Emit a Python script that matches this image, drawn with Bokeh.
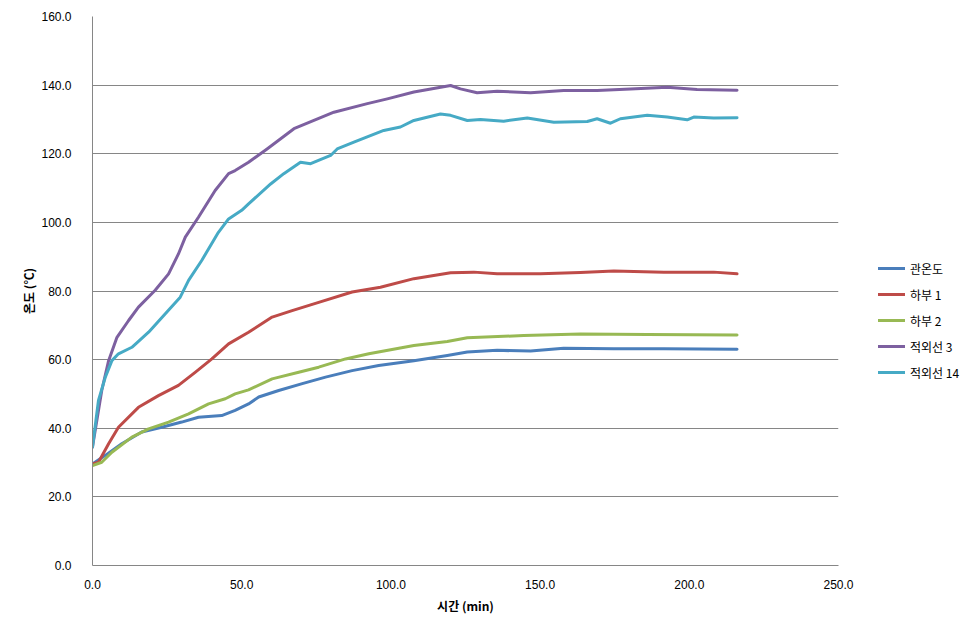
from bokeh.plotting import figure
from bokeh.models import Legend, LegendItem, PrintfTickFormatter, FixedTicker, Range1d
from bokeh.embed import file_html
from bokeh.resources import INLINE

# ---- data ----
t_blue = [0, 4.3, 9.8, 16.5, 23.2, 29.9, 35.5, 43.3, 47.8, 52.3, 55.7, 62.4, 70.3, 78.1, 87.0, 95.9,
          107.7, 118.9, 125.6, 135.6, 146.8, 157.9, 174.7, 191.5, 216]
y_blue = [29.6, 32.1, 35.5, 38.9, 40.3, 41.8, 43.2, 43.7, 45.2, 47.1, 49.1, 51.0, 53.0, 54.9, 56.8, 58.3,
          59.7, 61.2, 62.2, 62.7, 62.5, 63.3, 63.2, 63.2, 63.0]

t_red = [0, 2.0, 5.4, 8.7, 15.4, 22.1, 28.8, 34.4, 40.0, 45.6, 52.3, 60.2, 66.9, 75.8, 87.0, 96.5,
         107.7, 120, 127.8, 135.6, 150.1, 163.5, 174.7, 191.5, 208.2, 216]
y_red = [29.6, 30.1, 35.5, 40.3, 46.1, 49.5, 52.5, 56.3, 60.2, 64.6, 68.0, 72.4, 74.3, 76.7, 79.7, 81.1,
         83.6, 85.3, 85.5, 85.0, 85.0, 85.4, 85.8, 85.5, 85.5, 85.0]

t_green = [0, 3.1, 6.5, 13.2, 18.8, 25.5, 32.2, 38.9, 44.5, 47.8, 52.3, 60.2, 69.1, 75.8, 84.8, 92.6,
           107.7, 118.9, 125.6, 144.5, 163.5, 185.9, 216]
y_green = [29.1, 30.1, 33.0, 37.4, 39.8, 41.8, 44.2, 47.1, 48.6, 50.0, 51.2, 54.4, 56.3, 57.8, 60.2, 61.7,
           64.1, 65.3, 66.4, 67.0, 67.5, 67.3, 67.2]

t_purple = [0, 3.1, 5.4, 8.2, 12.1, 15.4, 21.0, 25.5, 28.8, 31.1, 35.5, 41.1, 45.6, 47.8, 52.3, 58.5,
            67.5, 80.9, 92.1, 98.8, 107.7, 120, 123.3, 128.9, 135.6, 146.8, 157.9, 169.1, 180.3,
            192.6, 202.6, 216]
y_purple = [34.5, 51.0, 59.7, 66.5, 71.4, 75.3, 80.2, 85.0, 90.8, 95.7, 101.5, 109.3, 114.2, 115.1,
            117.5, 121.4, 127.3, 132.1, 134.6, 136.0, 138.0, 139.9, 138.9, 137.8, 138.2, 137.8, 138.4,
            138.4, 138.9, 139.4, 138.7, 138.5]

t_cyan = [0, 2.0, 4.3, 6.5, 8.7, 13.2, 18.8, 24.4, 29.4, 32.2, 36.6, 42.2, 45.6, 50.0, 52.3, 59.7,
          64.1, 69.7, 73.1, 79.8, 82.0, 87.6, 97.6, 103.2, 107.7, 116.6, 120, 125.6, 130, 137.8, 145.7,
          154.6, 165.8, 169.1, 173.6, 176.9, 185.9, 192.6, 199.3, 201.5, 208.2, 216]
y_cyan = [34.5, 48.1, 54.9, 59.7, 61.7, 63.6, 68.0, 73.4, 78.2, 83.1, 88.9, 97.1, 101.0, 103.5, 105.4,
          111.2, 114.2, 117.5, 117.1, 119.5, 121.4, 123.4, 126.8, 127.8, 129.7, 131.6, 131.2, 129.7, 130.0,
          129.5, 130.4, 129.2, 129.4, 130.2, 128.9, 130.2, 131.2, 130.7, 129.9, 130.7, 130.4, 130.5]

series_names = ["관온도", "하부 1", "하부 2", "적외선 3", "적외선 14"]
series_colors = ["#4A7EBB", "#BE4B48", "#98B954", "#7D60A0", "#46AAC5"]
series_t = [t_blue, t_red, t_green, t_purple, t_cyan]
series_y = [y_blue, y_red, y_green, y_purple, y_cyan]

x_ticks = [0, 50, 100, 150, 200, 250]
y_ticks = [0, 20, 40, 60, 80, 100, 120, 140, 160]

NUM_FONT = "Liberation Sans"
KR_FONT = "Noto Sans CJK KR"

p = figure(frame_width=746, frame_height=549, output_backend="svg", toolbar_location=None,
           x_range=Range1d(0, 250), y_range=Range1d(0, 160),
           min_border_left=92, min_border_right=142, min_border_top=16, min_border_bottom=77)
p.outline_line_color = None
p.background_fill_color = "white"
p.border_fill_color = "white"

renderers = []
for name, col, t, y in zip(series_names, series_colors, series_t, series_y):
    r = p.line(t, y, line_color=col, line_width=3, line_join="round", line_cap="round")
    renderers.append((name, r))

# axes
for ax in (p.xaxis[0], p.yaxis[0]):
    ax.axis_line_color = "#868686"
    ax.axis_line_width = 1
    ax.major_tick_line_color = None
    ax.minor_tick_line_color = None
    ax.major_label_text_font = NUM_FONT
    ax.major_label_text_font_size = "12px"
    ax.major_label_text_color = "#000000"
    ax.formatter = PrintfTickFormatter(format="%.1f")
    ax.axis_label_text_font = KR_FONT
    ax.axis_label_text_font_size = "12px"
    ax.axis_label_text_font_style = "bold"
    ax.axis_label_text_color = "#000000"

p.xaxis[0].ticker = FixedTicker(ticks=x_ticks)
p.yaxis[0].ticker = FixedTicker(ticks=y_ticks)
p.xaxis[0].axis_label = "시간 (min)"
p.yaxis[0].axis_label = "온도 (℃)"
p.xaxis[0].major_label_standoff = 8
p.yaxis[0].major_label_standoff = 15
p.xaxis[0].axis_label_standoff = 5
p.yaxis[0].axis_label_standoff = 1

p.xgrid.grid_line_color = None
p.ygrid.grid_line_color = "#868686"
p.ygrid.grid_line_width = 1

legend = Legend(items=[LegendItem(label=n, renderers=[r]) for n, r in renderers],
                location=(40, 183))
legend.label_text_font = KR_FONT
legend.label_text_font_size = "12px"
legend.label_text_color = "#000000"
legend.glyph_width = 27
legend.glyph_height = 20
legend.label_height = 20
legend.spacing = 6
legend.label_standoff = 5
legend.padding = 0
legend.margin = 0
legend.border_line_color = None
legend.background_fill_alpha = 0
p.add_layout(legend, "right")

open("out.html", "w").write(file_html(p, INLINE))
